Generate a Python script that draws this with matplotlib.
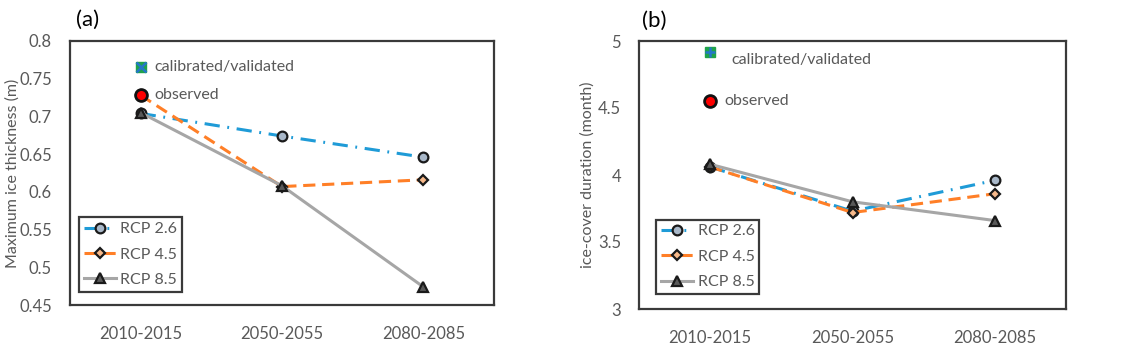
import numpy as np
import matplotlib.pyplot as plt

periods = ['2010-2015', '2050-2055', '2080-2085']

# (a) maximum ice thickness (m)
thick_rcp26 = [0.704, 0.674, 0.646]
thick_rcp45 = [0.728, 0.607, 0.616]
thick_rcp85 = [0.705, 0.608, 0.474]
thick_calib = 0.765
thick_obs = 0.729

# (b) ice-cover duration (month)
dur_rcp26 = [4.06, 3.73, 3.96]
dur_rcp45 = [4.06, 3.72, 3.86]
dur_rcp85 = [4.08, 3.80, 3.66]
dur_calib = 4.92
dur_obs = 4.55

plt.rcParams['font.family'] = ['Lato', 'DejaVu Sans']

GRAY_TXT = '#595959'
FRAME = '#3a3a3a'
BLUE = '#1f9bd7'
ORANGE = '#ff7f27'
LGRAY = '#a6a6a6'

fig = plt.figure(figsize=(11.24, 3.52), dpi=100)


def draw(ax, r26, r45, r85, calib, obs, ylim, yticks, ylabel, label,
         calib_txt_xy, obs_txt_xy, calib_marker, leg_xy, label_xy):
    x = np.arange(len(periods))
    ax.plot(x, r26, color=BLUE, lw=2.2, dashes=(5, 2.5, 0.6, 2.5),
            marker='o', ms=7, mfc='#a9b8c9', mec='#1a1a1a', mew=1.6,
            label='RCP 2.6', zorder=3)
    ax.plot(x, r45, color=ORANGE, lw=2.2, dashes=(4, 2.2),
            marker='D', ms=5.5, mfc='#f7b98a', mec='#1a1a1a', mew=1.6,
            label='RCP 4.5', zorder=3)
    ax.plot(x, r85, color=LGRAY, lw=2.2, ls='-',
            marker='^', ms=7, mfc='#595959', mec='#1a1a1a', mew=1.6,
            label='RCP 8.5', zorder=3)
    # calibrated / observed points
    ax.plot([0], [calib], marker='s', ms=7, color='#1fa34a', ls='none', zorder=4)
    ax.plot([0], [calib], marker=calib_marker, ms=7, color='#2477c9',
            mew=1.8, ls='none', zorder=5)
    ax.plot([0], [obs], marker='o', ms=8.5, mfc='#ff0000', mec='#111111',
            mew=2, ls='none', zorder=6)
    ax.text(*calib_txt_xy, 'calibrated/validated', color=GRAY_TXT,
            fontsize=11.5, va='center', ha='left')
    ax.text(*obs_txt_xy, 'observed', color=GRAY_TXT,
            fontsize=11.5, va='center', ha='left')

    ax.set_xlim(-0.5, 2.5)
    ax.set_ylim(*ylim)
    ax.set_xticks(x)
    ax.set_xticklabels(periods)
    ax.set_yticks(yticks)
    ax.set_yticklabels([('%g' % v) for v in yticks])
    ax.tick_params(axis='both', length=0, labelsize=12, labelcolor=GRAY_TXT)
    ax.tick_params(axis='x', pad=15)
    ax.tick_params(axis='y', pad=13)
    ax.set_ylabel(ylabel, color=GRAY_TXT, fontsize=11.5)
    for s in ax.spines.values():
        s.set_color(FRAME)
        s.set_linewidth(1.6)
    leg = ax.legend(loc='lower left', bbox_to_anchor=leg_xy,
                    fontsize=11.5, labelcolor=GRAY_TXT, handlelength=2.0,
                    handletextpad=0.3, borderpad=0.3, labelspacing=0.7,
                    fancybox=False, framealpha=1, borderaxespad=0)
    leg.get_frame().set_edgecolor(FRAME)
    leg.get_frame().set_linewidth(1.6)
    ax.text(*label_xy, label, transform=ax.transAxes, fontsize=16,
            va='center', ha='left', color='black')


ax1 = fig.add_axes([70 / 1124, 47 / 352, 424 / 1124, 264 / 352])
draw(ax1, thick_rcp26, thick_rcp45, thick_rcp85, thick_calib, thick_obs,
     (0.45, 0.8), np.round(np.arange(0.45, 0.801, 0.05), 2),
     'Maximum ice thickness (m)', '(a)', (0.1, 0.765), (0.1, 0.729), 'x',
     (0.021, 0.05), (0.015, 1.08))
ax1.yaxis.set_label_coords(-0.118, 0.5)

ax2 = fig.add_axes([639 / 1124, 43 / 352, 427 / 1124, 268 / 352])
draw(ax2, dur_rcp26, dur_rcp45, dur_rcp85, dur_calib, dur_obs,
     (3, 5), [3, 3.5, 4, 4.5, 5],
     'ice-cover duration (month)', '(b)', (0.15, 4.86), (0.1, 4.55), '+',
     (0.04, 0.056), (0.006, 1.075))
ax2.yaxis.set_label_coords(-0.103, 0.5)

fig.savefig('out.png', dpi=100)
